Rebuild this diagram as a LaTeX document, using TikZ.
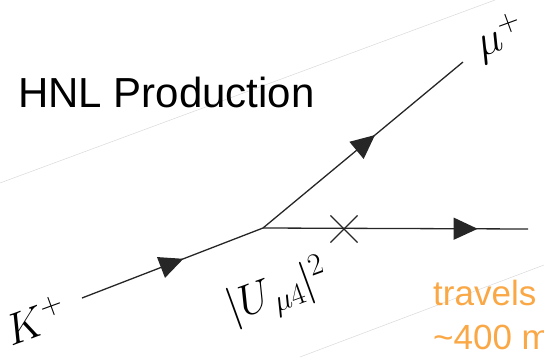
\RequirePackage{fix-cm}
\documentclass[tikz,border=0pt]{standalone}
\usepackage{fontspec}
\newfontfamily\arialfont{Liberation Sans}
\usetikzlibrary{arrows.meta,decorations.markings,shapes.misc}
\definecolor{hnlorange}{RGB}{250,168,70}
\tikzset{
  prop/.style={line width=1.3pt, black!85},
  arrowat/.style={postaction={decorate},decoration={markings,
     mark=at position #1 with {\arrow{Triangle[length=24pt,width=22pt]}}}},
  guide/.style={black!15, line width=0.5pt},
  lbl/.style={inner sep=0pt, rotate=20, font=\fontsize{44}{44}\selectfont},
  orangetext/.style={anchor=base west, inner sep=0pt, text=hnlorange,
     font=\arialfont\fontsize{35}{35}\selectfont},
}
\begin{document}
\begin{tikzpicture}[x=1pt,y=-1pt]
\useasboundingbox (0,0) rectangle (544,357);
% faint background guide lines
\coordinate (g1a) at (0,183);
\coordinate (g1b) at (495,0);
\coordinate (g2a) at (300,357);
\coordinate (g2b) at (544,265);
\draw[guide] (g1a) -- (g1b);
\draw[guide] (g2a) -- (g2b);
% title
\node[anchor=base west, inner sep=0pt, font=\arialfont\fontsize{42}{42}\selectfont] (title) at (18,107) {HNL Production};
% diagram
\coordinate (K) at (82,298);
\coordinate (V) at (263,228);
\coordinate (M) at (463,62);
\coordinate (N) at (528,229);
\draw[prop, arrowat=0.56] (K) -- (V);
\draw[prop, arrowat=0.56] (V) -- (M);
\draw[prop, arrowat=0.81] (V) -- (N);
\node[cross out, draw, line width=1.1pt, black!85, minimum size=26pt, inner sep=0pt] (X) at (344,229) {};
% labels
\node[lbl] (Klbl) at (35,320) {$K^+$};
\node[lbl] (Ulbl) at (278,293) {$|U_{\mkern2mu\mu 4}|^2$};
\node[lbl] (Mlbl) at (500,38) {$\mu^+$};
% orange text
\node[orangetext] (travel1) at (433,305) {travels};
\node[orangetext] (travel2) at (433,349) {\textasciitilde400 m};
\end{tikzpicture}
\end{document}
